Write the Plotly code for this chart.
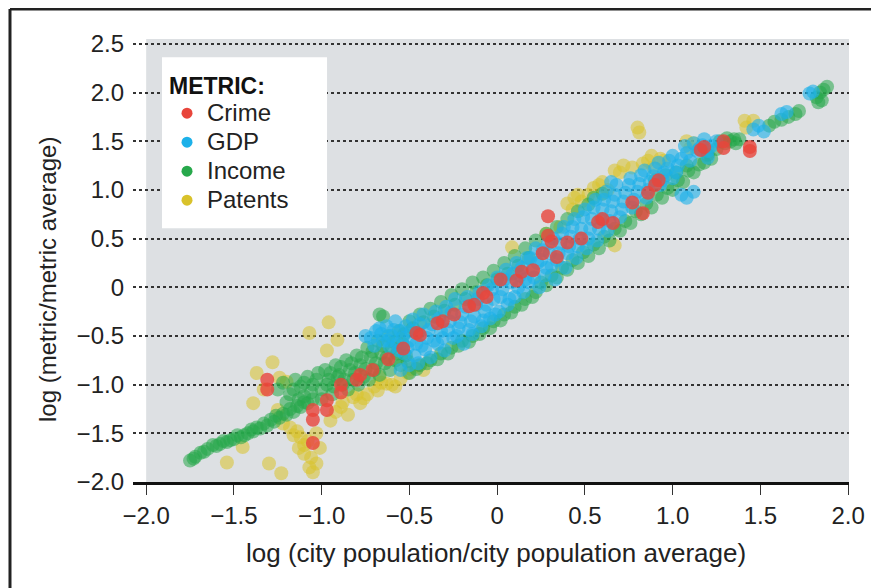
import plotly.graph_objects as go

# ---------------- data ----------------
crime_x = [-1.31, -1.31, -1.05, -1.05, -1.05, -0.97, -0.97, -0.89, -0.89, -0.80, -0.78, -0.71,
           -0.62, -0.535, -0.46, -0.44, -0.34, -0.31, -0.245, -0.16, -0.13, -0.08, -0.06, 0.02,
           0.11, 0.14, 0.205, 0.26, 0.34, 0.40, 0.29, 0.29, 0.31, 0.48, 0.575, 0.60, 0.66, 0.77,
           0.83, 0.86, 0.92, 0.90, 1.16, 1.18, 1.29, 1.29, 1.44, 1.44]
crime_y = [-0.95, -1.05, -1.26, -1.36, -1.60, -1.26, -1.16, -1.08, -1.00, -0.95, -0.90, -0.85,
           -0.74, -0.63, -0.47, -0.49, -0.37, -0.35, -0.28, -0.195, -0.18, -0.06, -0.10, 0.08,
           0.07, 0.16, 0.175, 0.35, 0.31, 0.46, 0.73, 0.53, 0.47, 0.50, 0.67, 0.70, 0.66, 0.87,
           0.76, 0.97, 1.10, 1.05, 1.41, 1.44, 1.43, 1.50, 1.44, 1.40]

gdp_x = [-0.75, -0.72, -0.69, -0.67, -0.65, -0.63, -0.61, -0.60, -0.58, -0.57, -0.55, -0.55,
         -0.53, -0.52, -0.50, -0.50, -0.48, -0.47, -0.45, -0.45, -0.43, -0.42, -0.40, -0.38,
         -0.37, -0.35, -0.34, -0.32, -0.30, -0.29, -0.27, -0.25, -0.24, -0.22, -0.20, -0.19,
         -0.17, -0.15, -0.14, -0.12, -0.10, -0.09, -0.07, -0.05, -0.04, -0.02, 0.00, 0.01,
         0.03, 0.05, 0.06, 0.08, 0.10, 0.11, 0.13, 0.15, 0.17, 0.18, 0.20, 0.22, 0.24, 0.25,
         0.27, 0.29, 0.31, 0.33, 0.35, 0.37, 0.39, 0.41, 0.43, 0.45, 0.47, 0.49, 0.51, 0.53,
         0.55, 0.57, 0.59, 0.61, 0.63, 0.65, 0.67, 0.70, 0.72, 0.75, 0.77, 0.80, 0.82, 0.85,
         0.87, 0.90, 0.93, 0.95, 0.98, 1.00, 1.03, 1.05, 1.08, 1.12, 1.08, 1.12, 1.15, 1.18,
         1.20, 1.22, 1.25, 1.46, 1.49, 1.52, 1.62, 1.65, 1.78, 1.80,
         -0.70, -0.66, -0.62, -0.59, -0.56, -0.54, -0.51, -0.49, -0.46, -0.44, -0.41, -0.39,
         -0.36, -0.33, -0.31, -0.28, -0.26, -0.23, -0.21, -0.18, -0.16, -0.13, -0.11, -0.08,
         -0.06, -0.03, -0.01, 0.02, 0.04, 0.07, 0.09, 0.12, 0.14, 0.16, 0.19, 0.21, 0.23, 0.26,
         0.28, 0.30, 0.32, 0.34, 0.36, 0.38, 0.40, 0.42, 0.44, 0.46, 0.48, 0.50, 0.52, 0.54,
         0.56, 0.58, 0.60, 0.62, 0.64, 0.66, 0.68, 0.71, 0.73, 0.76, 0.78, 0.81, 0.84, 0.86,
         0.89, 0.92, 0.94, 0.97, 1.00, 1.02, 1.05, 1.07, 1.10, 1.14, 1.17, 1.20, 0.65]
gdp_y = [-0.50, -0.52, -0.45, -0.42, -0.55, -0.40, -0.62, -0.50, -0.35, -0.58, -0.45, -0.85,
         -0.68, -0.40, -0.55, -0.80, -0.33, -0.70, -0.47, -0.78, -0.60, -0.28, -0.52, -0.72,
         -0.38, -0.25, -0.58, -0.45, -0.65, -0.20, -0.35, -0.52, -0.12, -0.42, -0.28, -0.58,
         -0.10, -0.35, -0.48, -0.18, -0.05, -0.40, -0.25, 0.02, -0.32, -0.12, 0.10, -0.25,
         -0.02, 0.18, -0.18, 0.05, -0.10, 0.25, 0.12, -0.05, 0.30, 0.05, 0.18, 0.40, 0.00, 0.28,
         0.12, 0.45, 0.22, 0.08, 0.35, 0.55, 0.20, 0.42, 0.62, 0.30, 0.50, 0.72, 0.40, 0.60,
         0.82, 0.48, 0.70, 0.90, 0.58, 0.78, 0.95, 0.72, 0.88, 1.05, 0.82, 0.98, 1.15, 0.92,
         1.08, 1.22, 1.05, 1.18, 1.30, 1.12, 1.25, 0.95, 0.92, 0.98, 1.38, 1.48, 1.42, 1.52,
         1.33, 1.45, 1.50, 1.62, 1.66, 1.60, 1.78, 1.80, 1.99, 2.01,
         -0.60, -0.48, -0.55, -0.44, -0.65, -0.52, -0.62, -0.45, -0.58, -0.38, -0.64, -0.44,
         -0.55, -0.32, -0.52, -0.44, -0.26, -0.50, -0.36, -0.20, -0.44, -0.30, -0.12, -0.34,
         -0.18, -0.02, -0.28, -0.10, 0.08, -0.12, 0.14, 0.00, 0.20, 0.08, 0.30, 0.10, 0.25, 0.38,
         0.20, 0.35, 0.50, 0.28, 0.45, 0.62, 0.35, 0.52, 0.70, 0.42, 0.60, 0.80, 0.50, 0.70,
         0.90, 0.60, 0.80, 0.98, 0.68, 0.88, 1.05, 0.80, 0.97, 1.12, 0.90, 1.06, 1.20, 1.00,
         1.14, 1.28, 1.10, 1.22, 1.35, 1.18, 1.32, 1.45, 1.30, 1.40, 1.46, 1.40, 1.08]

income_x = [-1.75, -1.72, -1.69, -1.65, -1.62, -1.58, -1.54, -1.50, -1.46, -1.42, -1.39, -1.35,
            -1.31, -1.27, -1.24, -1.20, -1.16, -1.12, -1.08, -1.05,
            -1.73, -1.67, -1.60, -1.56, -1.52, -1.48, -1.44, -1.40, -1.37, -1.33, -1.29, -1.26,
            -1.22, -1.18, -1.14, -1.10,
            -1.25, -1.22, -1.18, -1.15, -1.12, -1.10, -1.08, -1.05, -1.02, -1.00, -0.98, -0.96,
            -0.94, -0.92, -0.90, -0.88, -0.86, -0.84, -0.82, -0.80, -0.78, -0.76, -0.74, -0.72,
            -0.70, -0.68, -0.66, -0.64, -0.62, -0.60, -0.58, -0.56, -0.54, -0.52, -0.67, -0.65,
            -1.20, -1.16, -1.13, -1.10, -1.06, -1.03, -1.00, -0.97, -0.95, -0.93, -0.91, -0.89,
            -0.87, -0.85, -0.83, -0.81, -0.79, -0.77, -0.75, -0.73, -0.71, -0.69, -0.67, -0.65,
            -0.63, -0.61, -0.59, -0.57, -0.55, -0.53, -0.51,
            -0.50, -0.44, -0.38, -0.32, -0.26, -0.20, -0.14, -0.08, -0.02, 0.04, 0.10, 0.16,
            0.22, 0.28, 0.34, 0.40, 0.46, 0.52, 0.55, 0.60,
            -0.48, -0.42, -0.36, -0.30, -0.24, -0.18, -0.12, -0.06, 0.00, 0.06, 0.12, 0.18,
            -0.50, -0.44, -0.38, -0.32, -0.26, -0.20, -0.14, -0.08, -0.02, 0.04, 0.10, 0.16,
            0.22, 0.28, 0.34, 0.40, 0.46, 0.52, 0.58, 0.64, 0.70, 0.76, 0.82, 0.88, 0.94, 1.00,
            1.06, 1.12, 1.18, 1.22,
            -0.46, -0.40, -0.34, -0.28, -0.22, -0.16, -0.10, -0.04, 0.02, 0.08, 0.14, 0.20,
            0.25, 0.31, 0.37, 0.43, 0.49, 0.55, 0.61, 0.67, 0.73, 0.79, 0.85, 0.91, 0.97, 1.03,
            1.09, 1.15, 1.20, 1.25, 1.30, 1.35,
            0.90, 0.96, 1.02, 1.08, 1.27, 1.31, 1.33, 1.36, 1.38,
            1.55, 1.58, 1.62, 1.66, 1.70, 1.72, 1.82, 1.84, 1.86, 1.88, 1.85, 1.83]
income_y = [-1.78, -1.74, -1.70, -1.66, -1.62, -1.61, -1.59, -1.56, -1.54, -1.50, -1.48, -1.45,
            -1.42, -1.38, -1.34, -1.31, -1.28, -1.23, -1.19, -1.15,
            -1.76, -1.69, -1.63, -1.58, -1.57, -1.52, -1.52, -1.46, -1.44, -1.40, -1.36, -1.32,
            -1.30, -1.25, -1.22, -1.18,
            -1.05, -0.98, -1.10, -0.95, -1.02, -1.12, -0.92, -1.00, -0.88, -1.05, -0.85, -0.95,
            -1.10, -0.80, -0.90, -1.00, -0.75, -0.85, -0.95, -0.70, -0.80, -0.92, -0.62, -0.72,
            -0.85, -0.55, -0.68, -0.78, -0.50, -0.62, -0.75, -0.45, -0.58, -0.70, -0.28, -0.30,
            -1.18, -1.05, -1.15, -0.98, -1.08, -0.95, -1.15, -1.00, -0.88, -1.02, -0.92, -0.82,
            -0.95, -1.05, -0.78, -0.88, -1.00, -0.72, -0.84, -0.95, -0.66, -0.78, -0.90, -0.60,
            -0.72, -0.85, -0.56, -0.68, -0.80, -0.48, -0.76,
            -0.35, -0.28, -0.22, -0.15, -0.08, -0.02, 0.05, 0.10, 0.17, 0.25, 0.32, 0.40,
            0.48, 0.55, 0.62, 0.70, 0.78, 0.85, 0.92, 0.96,
            -0.42, -0.36, -0.30, -0.24, -0.18, -0.12, -0.05, 0.02, 0.08, 0.14, 0.22, 0.30,
            -0.88, -0.80, -0.75, -0.68, -0.62, -0.55, -0.50, -0.42, -0.35, -0.28, -0.20, -0.12,
            -0.05, 0.02, 0.10, 0.18, 0.25, 0.32, 0.40, 0.48, 0.58, 0.66, 0.75, 0.82, 0.92, 1.00,
            1.08, 1.18, 1.28, 1.32,
            -0.84, -0.78, -0.74, -0.68, -0.60, -0.56, -0.48, -0.42, -0.34, -0.26, -0.18, -0.10,
            0.05, 0.12, 0.20, 0.28, 0.36, 0.44, 0.52, 0.60, 0.68, 0.78, 0.86, 0.95, 1.02, 1.10,
            1.20, 1.26, 1.36, 1.42, 1.48, 1.52,
            1.10, 1.15, 1.18, 1.25, 1.50, 1.53, 1.50, 1.48, 1.52,
            1.66, 1.70, 1.72, 1.75, 1.78, 1.81, 1.95, 2.00, 2.03, 2.06, 1.92, 1.90]

patents_x = [-0.96, -1.07, -0.91, -0.97, -1.28, -1.37, -1.24, -1.20, -1.39, -1.45, -1.54, -1.30,
             -1.23, -1.18, -1.12, -1.10, -1.07, -1.03, -1.05, -1.03, -1.10, -1.14, -0.95, -0.89,
             -0.85, -0.82, -0.78, -0.74, -0.68, -0.63, -0.58, -0.51, -0.45, -0.42, -1.25, -1.22,
             -1.33, -0.67, -0.60,
             -0.92, -0.88, -0.80, -0.76, -0.70, -0.66, -0.55, -0.49, -1.16, -1.08, -1.13, -1.06,
             -1.01,
             0.80, 0.81, 0.67, 0.77, 0.83, 0.93, 0.89, 0.86, 0.40, 0.44, 0.63, 0.48, 1.10, 1.08,
             1.41, 1.46, 1.42, 0.67, 0.085, 0.28, 0.36, 0.52, 0.70, 0.58, 0.43,
             0.46, 0.55, 0.60, 0.72, 0.88, 0.95, 1.12]
patents_y = [-0.36, -0.47, -0.54, -0.65, -0.77, -0.88, -0.93, -0.97, -1.19, -1.64, -1.80, -1.81,
             -1.91, -1.44, -1.54, -1.71, -1.85, -1.81, -1.90, -1.50, -1.62, -1.48, -1.37, -1.23,
             -1.31, -1.13, -1.19, -1.10, -1.06, -0.99, -1.02, -0.88, -0.80, -0.85, -1.26, -1.40,
             -1.05, -0.92, -1.00,
             -1.28, -1.18, -1.10, -1.14, -1.02, -0.98, -0.94, -0.84, -1.52, -1.58, -1.65, -1.75,
             -1.65,
             1.64, 1.59, 1.20, 1.23, 1.27, 1.32, 1.23, 1.30, 0.86, 0.92, 1.00, 0.88, 1.43, 1.50,
             1.71, 1.71, 1.64, 0.43, 0.41, 0.55, 0.62, 0.95, 1.18, 1.05, 0.80,
             0.95, 1.02, 1.08, 1.25, 1.35, 1.30, 1.48]

metric_names = ["Crime", "GDP", "Income", "Patents"]
metric_colors = ["#e8453b", "#1db1e9", "#27a84b", "#d9c22b"]

x_ticks = [-2.0, -1.5, -1.0, -0.5, 0, 0.5, 1.0, 1.5, 2.0]
x_tick_text = ["\u22122.0", "\u22121.5", "\u22121.0", "\u22120.5", "0", "0.5", "1.0", "1.5", "2.0"]
y_ticks = [-2.0, -1.5, -1.0, -0.5, 0, 0.5, 1.0, 1.5, 2.0, 2.5]
y_tick_text = ["\u22122.0", "\u22121.5", "\u22121.0", "\u22120.5", "0", "0.5", "1.0", "1.5", "2.0", "2.5"]

FONT = "Liberation Sans"
TXT = "#222222"

fig = go.Figure()

series = {
    "Patents": (patents_x, patents_y, 0.55),
    "Income": (income_x, income_y, 0.55),
    "GDP": (gdp_x, gdp_y, 0.6),
    "Crime": (crime_x, crime_y, 0.8),
}
for name in ["Patents", "Income", "GDP", "Crime"]:
    xs, ys, op = series[name]
    col = metric_colors[metric_names.index(name)]
    fig.add_trace(go.Scatter(x=xs, y=ys, mode="markers", name=name, showlegend=False,
                             marker=dict(size=14, color=col, opacity=op, line=dict(width=0)),
                             hoverinfo="skip"))

# legend-only entries
for name, col in zip(metric_names, metric_colors):
    fig.add_trace(go.Scatter(x=[None], y=[None], mode="markers",
                             name='<span style="font-size:24px">' + name + '</span>',
                             marker=dict(size=11, color=col)))

fig.update_layout(
    width=871, height=580,
    margin=dict(l=125, r=30, t=31, b=106),
    paper_bgcolor="white", plot_bgcolor="white",
    font=dict(family=FONT, color=TXT),
    showlegend=True,
    legend=dict(x=0.0475, y=0.944, xanchor="left", yanchor="top",
                bgcolor="rgba(255,255,255,0)", borderwidth=0,
                font=dict(size=20, family=FONT, color=TXT),
                title=dict(text="<b>METRIC:</b>", font=dict(size=23, family=FONT, color="#111")),
                itemwidth=30, tracegroupgap=0),
    xaxis=dict(range=[-2.075, 2.005], tickvals=x_ticks, ticktext=x_tick_text,
               showgrid=False, zeroline=False, showline=True, linecolor="#111", linewidth=3,
               ticks="outside", ticklen=10, tickwidth=1, tickcolor="#333",
               tickfont=dict(size=24, family=FONT, color=TXT)),
    yaxis=dict(range=[-2.0, 2.55], tickvals=y_ticks, ticktext=y_tick_text,
               showgrid=True, gridcolor="#333", gridwidth=2, griddash="dot",
               zeroline=False, showline=False, ticks="", ticklabelstandoff=8,
               tickfont=dict(size=24, family=FONT, color=TXT)),
)

# grey panel behind the points
fig.add_shape(type="rect", xref="x", yref="y", x0=-2.0, x1=2.005, y0=-2.0, y1=2.55,
              fillcolor="#dde0e3", line=dict(width=0), layer="below")
# white legend box
fig.add_shape(type="rect", xref="paper", yref="paper", x0=0.0405, x1=0.271, y0=0.573, y1=0.959,
              fillcolor="white", line=dict(width=0), layer="above")

# outer frame (top and left edges)
fig.add_shape(type="line", xref="paper", yref="paper", x0=-0.1718, x1=1.05, y0=1.0677, y1=1.0677,
              line=dict(color="#222", width=3))
fig.add_shape(type="line", xref="paper", yref="paper", x0=-0.1718, x1=-0.1718, y0=-0.25, y1=1.0677,
              line=dict(color="#222", width=3))

fig.add_annotation(text="log (city population/city population average)", xref="paper", yref="paper",
                   x=0.507, y=-0.160, xanchor="center", yanchor="middle", showarrow=False,
                   font=dict(size=26, family=FONT, color=TXT))
fig.add_annotation(text="log (metric/metric average)", xref="paper", yref="paper",
                   x=-0.1187, y=0.456, xanchor="center", yanchor="middle", showarrow=False,
                   textangle=-90, font=dict(size=24, family=FONT, color=TXT))

fig.write_html("out.html")
